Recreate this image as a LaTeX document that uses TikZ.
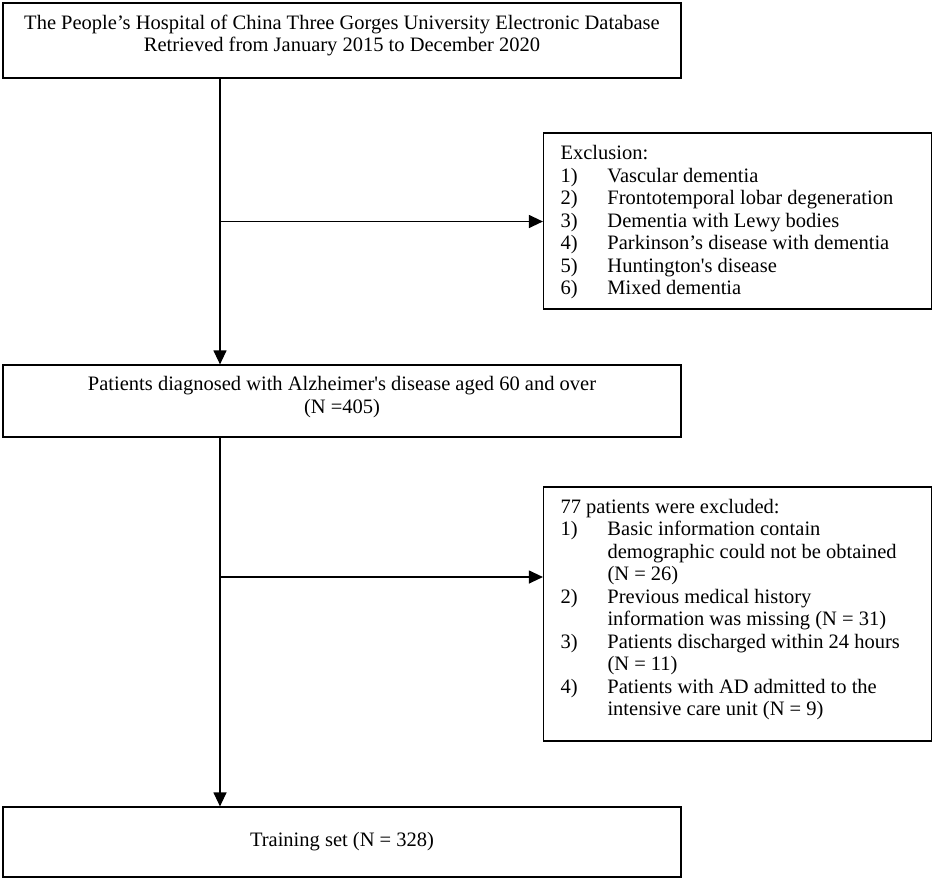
\documentclass[tikz,border=0pt]{standalone}
\usepackage{fontspec}
\setmainfont{Liberation Serif}
\usetikzlibrary{positioning,arrows.meta}

\tikzset{
  every node/.style={font=\fontsize{20.5}{22.5}\selectfont},
  mainbox/.style={draw,line width=1.2pt,minimum width=678pt,inner sep=0pt},
  maintext/.style={align=center,inner sep=0pt},
  exbox/.style={draw,line width=1.2pt,minimum width=388pt,inner sep=0pt},
  extext/.style={anchor=north west,inner sep=0pt,align=left},
}

\begin{document}
\begin{tikzpicture}[x=1pt,y=-1pt,>={Triangle[length=14pt,width=13pt]},line width=1.2pt]

\useasboundingbox (0,0) rectangle (936,881);

% Riquadri principali
\node[mainbox,minimum height=75pt] (db) at (342,40.5) {};
\node[maintext] (dbtxt) at ([yshift=5pt]db.center)
  {The People’s Hospital of China Three Gorges University Electronic Database\\
   Retrieved from January 2015 to December 2020};

\node[mainbox,minimum height=72pt] (ad) at (342,401) {};
\node[maintext] (adtxt) at ([yshift=4pt]ad.center)
  {Patients diagnosed with Alzheimer\textquotesingle s disease aged 60 and over\\
   (N =405)};

\node[mainbox,minimum height=70pt] (train) at (342,842) {};
\node[maintext] (traintxt) at (train.center) {Training set (N = 328)};

% Riquadri di esclusione
\node[exbox,minimum height=176pt] (excl1) at (737.5,221) {};
\node[extext] (excl1txt) at ([xshift=17pt,yshift=-11pt]excl1.north west)
  {\begin{tabular}{@{}p{47pt}@{}l@{}}
   \multicolumn{2}{@{}l@{}}{Exclusion:}\\
   1) & Vascular dementia\\
   2) & Frontotemporal lobar degeneration\\
   3) & Dementia with Lewy bodies\\
   4) & Parkinson’s disease with dementia\\
   5) & Huntington\textquotesingle s disease\\
   6) & Mixed dementia
   \end{tabular}};

\node[exbox,minimum height=254pt] (excl2) at (737.5,614) {};
\node[extext] (excl2txt) at ([xshift=17pt,yshift=-10.5pt]excl2.north west)
  {\begin{tabular}{@{}p{47pt}@{}l@{}}
   \multicolumn{2}{@{}l@{}}{77 patients were excluded:}\\
   1) & Basic information contain\\
      & demographic could not be obtained\\
      & (N = 26)\\
   2) & Previous medical history\\
      & information was missing (N = 31)\\
   3) & Patients discharged within 24 hours\\
      & (N = 11)\\
   4) & Patients with AD admitted to the\\
      & intensive care unit (N = 9)
   \end{tabular}};

% Punti di diramazione
\coordinate (b1) at (220,221.5);
\coordinate (b2) at (220,577);

% Frecce
\draw[->] (db.south -| b1) -- (b1 |- ad.north);
\draw[->] (b1) -- (b1 -| excl1.west);
\draw[->] (ad.south -| b2) -- (b2 |- train.north);
\draw[->] (b2) -- (b2 -| excl2.west);

\end{tikzpicture}
\end{document}
